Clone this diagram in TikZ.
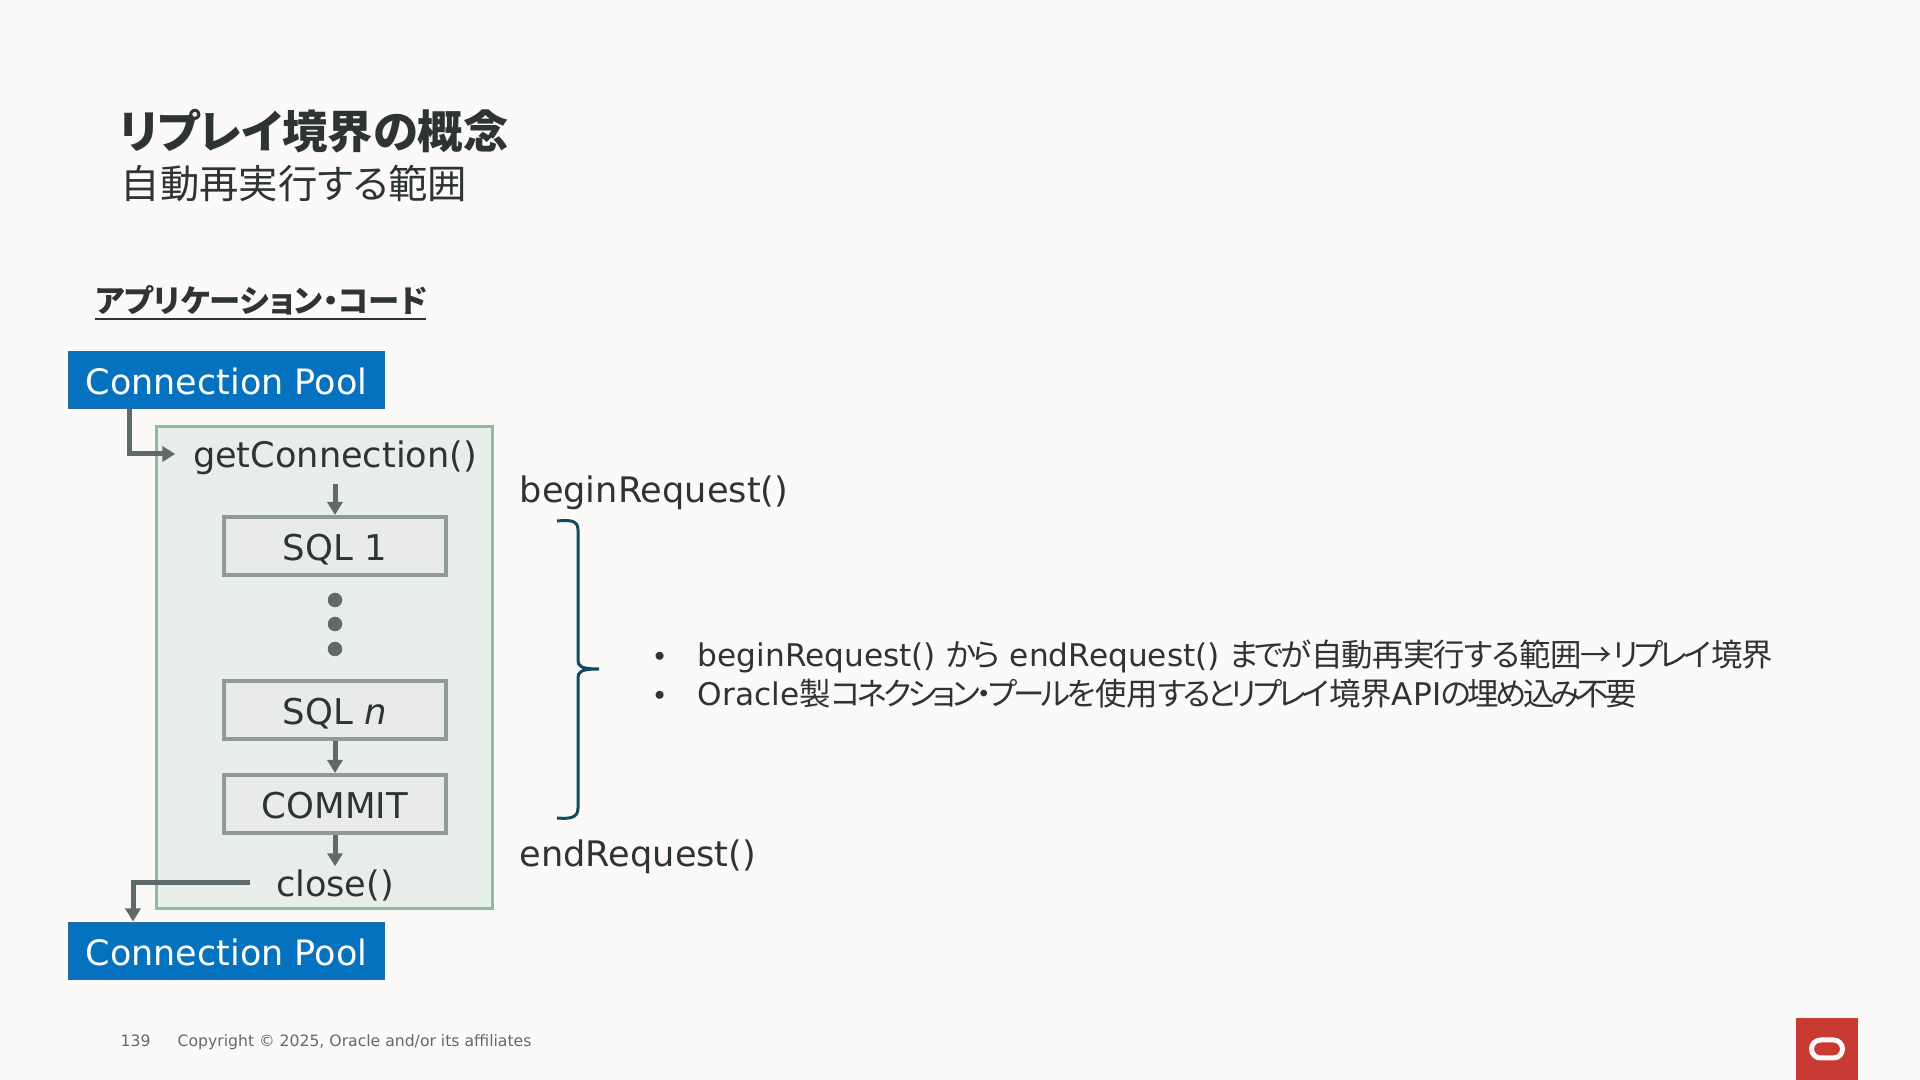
\documentclass[tikz,border=0pt]{standalone}
\usepackage{fontspec}
\usepackage{xcolor}
\usetikzlibrary{arrows.meta}
\setmainfont{DejaVu Sans}
\newfontfamily\jp[RawFeature=+palt]{Noto Sans CJK JP}
\newfontfamily\jpkanji[RawFeature=+palt,LetterSpace=-2.5]{Noto Sans CJK JP}
\newfontfamily\jpkana[RawFeature=+palt,LetterSpace=-12]{Noto Sans CJK JP}
\definecolor{paper}{HTML}{FBFAF8}
\definecolor{ink}{HTML}{2E3433}
\definecolor{arrowgray}{HTML}{5F6B6B}
\definecolor{poolblue}{HTML}{0572C0}
\definecolor{pooledge}{HTML}{2A6A9E}
\definecolor{boxgreen}{HTML}{E8EFEA}
\definecolor{edgegreen}{HTML}{8DBC9C}
\definecolor{sqlfill}{HTML}{E9EBEA}
\definecolor{sqledge}{HTML}{8F9A9A}
\definecolor{bracecol}{HTML}{0F4C5F}
\definecolor{logored}{HTML}{C93A32}
\tikzset{
	every node/.append style={inner sep=0pt,text=ink},
	pool/.style={draw=pooledge,line width=.01cm,fill=poolblue,text=white,minimum width=3.16cm,minimum height=.57cm,text height=.29cm,text depth=0pt,font=\fontsize{9.95}{12}\selectfont},
	sqlbox/.style={draw=sqledge,line width=.04cm,fill=sqlfill,minimum width=2.22cm,minimum height=.58cm,text height=.29cm,text depth=0pt,font=\fontsize{10.1}{12}\selectfont},
	call/.style={font=\fontsize{10}{12}\selectfont},
	plain/.style={anchor=base west,font=\fontsize{10}{12}\selectfont},
	bodytext/.style={anchor=base west,font=\fontsize{8.88}{11}\selectfont},
	bulletmark/.style={anchor=base west,font=\fontsize{7.8}{9}\selectfont},
	foottext/.style={anchor=base west,text=arrowgray,font=\fontsize{4.45}{6}\selectfont},
	flow/.style={arrowgray,line width=.05cm,-{Triangle[length=.13cm,width=.15cm]}},
	dotmark/.style={circle,fill=arrowgray,minimum size=.145cm}
	}
\newcommand{\jb}[1]{{\jpkanji\fontsize{8.95}{11}\selectfont #1}}
\newcommand{\jk}[1]{{\jpkana\fontsize{8.95}{11}\selectfont #1}}

\begin{document}
\begin{tikzpicture}
	\path[use as bounding box,fill=paper] (0,0) rectangle (19.2,10.8);

	%% Heading
	\draw (1.18,9.31) node [anchor=base west,font=\jp\bfseries\fontsize{12.9}{15}\selectfont] (title) {リプレイ境界の概念};
	\draw (1.20,8.815) node [anchor=base west,font=\jp\fontsize{11.2}{14}\selectfont] (subtitle) {自動再実行する範囲};
	\draw (0.95,7.67) node [anchor=base west,font=\jp\bfseries\fontsize{8.9}{11}\selectfont] (appcode) {アプリケーション・コード};
	\draw [ink,line width=.02cm] (0.95,7.61) -- (4.26,7.61);

	%% Request box
	\draw (3.245,4.125) node [draw=edgegreen,line width=.03cm,fill=boxgreen,minimum width=3.36cm,minimum height=4.82cm] (reqbox) {};
	\draw (2.265,7.00) node [pool] (pool1) {Connection Pool};
	\draw (2.265,1.285) node [pool] (pool2) {Connection Pool};
	\draw (3.35,6.26) node [call,minimum width=3.18cm,text height=.43cm,text depth=.15cm] (getconn) {getConnection()};
	\draw (3.35,5.34) node [sqlbox] (sql1) {SQL 1};
	\foreach \y [count=\i] in {4.80,4.56,4.31}
		\draw (3.35,\y) node [dotmark] (dot\i) {};
	\draw (3.35,3.70) node [sqlbox] (sqln) {SQL \textit{n}};
	\draw (3.35,2.76) node [sqlbox] (commit) {COMMIT};
	\draw (3.35,1.97) node [call,minimum width=1.68cm,text height=.30cm,text depth=.02cm] (close) {close()};

	%% Connectors
	\coordinate (poolout) at (1.29,6.71);
	\coordinate (poolin) at (1.33,1.585);
	\draw [flow] (poolout) |- (getconn.west);
	\draw [flow] (getconn) -- (sql1);
	\draw [flow] (sqln) -- (commit);
	\draw [flow] (commit) -- (close);
	\draw [flow] (close.west) -| (poolin);

	%% Brace and its notes
	\draw (5.19,5.77) node [plain] (begin) {beginRequest()};
	\draw (5.19,2.13) node [plain] (end) {endRequest()};
	\draw [bracecol,line width=.03cm] (5.57,5.59) .. controls (5.70,5.60) and (5.78,5.60) .. (5.78,5.50) -- (5.78,4.20) .. controls (5.78,4.14) and (5.80,4.11) .. (5.99,4.11) .. controls (5.80,4.11) and (5.78,4.08) .. (5.78,4.02) -- (5.78,2.72) .. controls (5.78,2.62) and (5.70,2.61) .. (5.57,2.62);
	\draw (6.51,4.13) node [bulletmark] (bullet1) {•};
	\draw (6.51,3.745) node [bulletmark] (bullet2) {•};
	\draw (6.97,4.13) node [bodytext] (note1) {beginRequest() \jk{から} endRequest() \jk{までが}\jb{自動再実行する範囲→}\jk{リプレイ}\jb{境界}};
	\draw (6.97,3.74) node [bodytext] (note2) {Oracle\jb{製}\jk{コネクション・プールを}\jb{使用}\jk{すると}\jk{リプレイ}\jb{境界}API\jk{の埋め込み不要}};

	%% Footer
	\draw (1.20,0.33) node [foottext] (pageno) {139};
	\draw (1.77,0.33) node [foottext] (copyright) {Copyright © 2025, Oracle and/or its affiliates};
	\draw (18.27,0.31) node [fill=logored,minimum width=.62cm,minimum height=.62cm] (logo) {};
	\draw (logo) node [draw=paper,line width=.05cm,rounded corners=.09cm,minimum width=.31cm,minimum height=.18cm] (logoring) {};
\end{tikzpicture}
\end{document}
